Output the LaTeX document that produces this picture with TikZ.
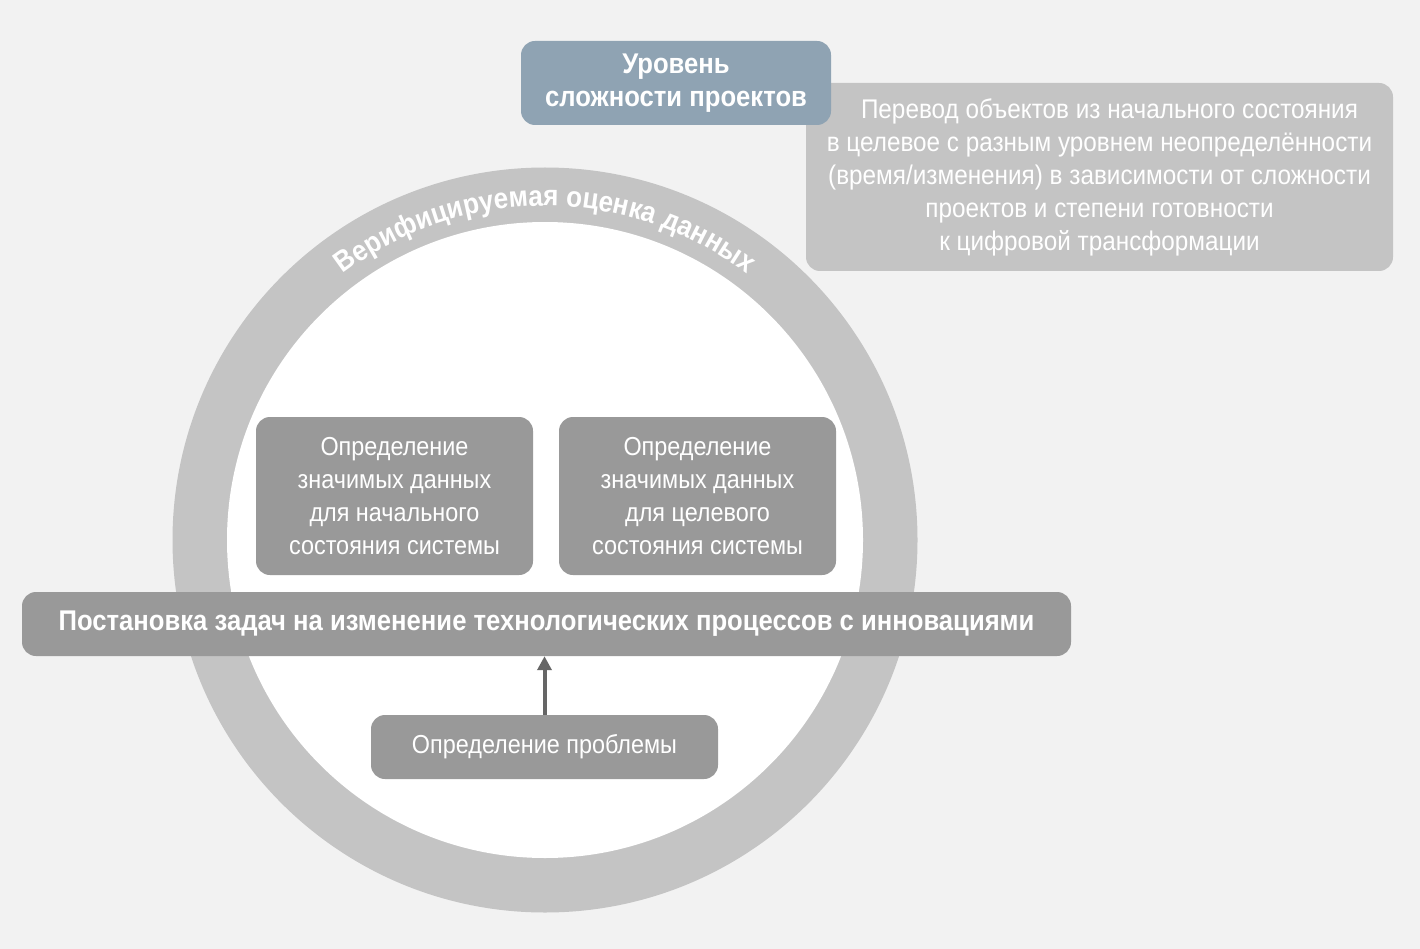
\documentclass[tikz,border=0pt]{standalone}
\usepackage{fontspec}
\setmainfont{Liberation Sans}[FakeStretch=0.9]
\usetikzlibrary{decorations.text,arrows.meta}
\definecolor{bg}{HTML}{F2F2F2}
\definecolor{ring}{HTML}{C4C4C4}
\definecolor{boxg}{HTML}{999999}
\definecolor{blueg}{HTML}{8FA3B3}
\definecolor{arr}{HTML}{666666}
\begin{document}
\begin{tikzpicture}[x=1pt,y=-1pt,
  gbox/.style={fill=boxg,rounded corners=14pt,text=white,align=center,inner sep=0pt,font=\fontsize{26}{33}\selectfont},
  btxt/.style={font=\bfseries\fontsize{28.5}{33}\selectfont}]
\fill[bg] (0,0) rectangle (1420,949);
\useasboundingbox (0,0) rectangle (1420,949);
\fill[ring] (545,540) circle (372.5);
\fill[white] (545,540) circle (318);
\path[decorate,decoration={text along path,text align=center,
  text={|\color{white}\bfseries\fontsize{29}{30}\selectfont|Верифицируемая оценка данных}}]
  (545,540) ++(220:334) arc[start angle=220,end angle=320,radius=334];
\node[gbox,fill=ring,font=\fontsize{27}{33}\selectfont,minimum width=587pt,minimum height=188pt] (desc) at (1099.5,177) {\hspace*{20pt}Перевод объектов из начального состояния\\в целевое с разным уровнем неопределённости\\(время/изменения) в зависимости от сложности\\проектов и степени готовности\\к цифровой трансформации};
\node[gbox,fill=blueg,btxt,minimum width=310pt,minimum height=84pt] (lvl) at (676,83) {Уровень\\сложности проектов};
\node[gbox,minimum width=277pt,minimum height=158pt] (b1) at (394.5,496) {Определение\\значимых данных\\для начального\\состояния системы};
\node[gbox,minimum width=277pt,minimum height=158pt] (b2) at (697.5,496) {Определение\\значимых данных\\для целевого\\состояния системы};
\node[gbox,btxt,minimum width=1049pt,minimum height=64pt] (bar) at (546.5,624) {Постановка задач на изменение технологических процессов с инновациями};
\node[gbox,minimum width=347pt,minimum height=64pt] (prob) at (544.5,747) {Определение проблемы};
\draw[arr,line width=4pt,-{Triangle[length=14pt,width=14pt]}] (prob.north) -- (prob.north |- bar.south);
\end{tikzpicture}
\end{document}
